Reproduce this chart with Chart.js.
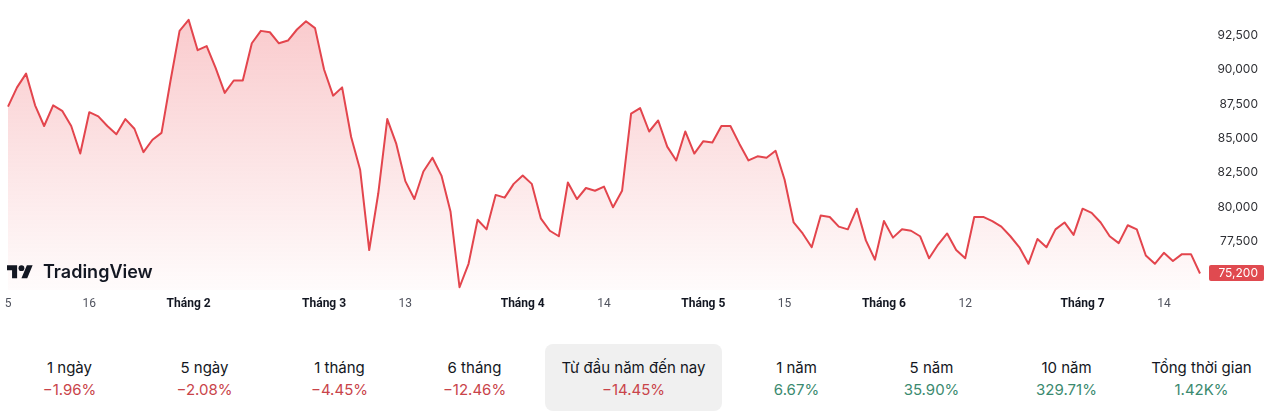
<!DOCTYPE html>
<html><head><meta charset="utf-8">
<script src="https://cdn.jsdelivr.net/npm/chart.js@4/dist/chart.umd.min.js"></script>
<style>
html,body{margin:0;padding:0;background:#fff;}
#wrap{position:relative;width:1280px;height:411px;overflow:hidden;font-family:Inter,'Noto Sans',sans-serif;color:#131722;}
#c{position:absolute;left:0;top:0;}
.logo{position:absolute;left:7px;top:262px;height:22px;}
.logo svg{position:absolute;left:0;top:0;}
.logo span{position:absolute;left:36px;top:-1px;font-family:Inter,sans-serif;font-weight:600;font-size:18px;line-height:22px;color:#131722;white-space:nowrap;}
.stat{position:absolute;top:344px;height:67px;text-align:center;}
.stat .l{position:absolute;left:0;right:0;top:15px;font-size:15px;line-height:18px;color:#131722;white-space:nowrap;}
.stat .v{position:absolute;left:0;right:0;top:37px;font-size:15px;line-height:18px;white-space:nowrap;}
.stat.sel{background:#f0f0f0;border-radius:8px;}
</style></head><body>
<div id="wrap">
<canvas id="c" width="1280" height="320"></canvas>
<div class="logo">
<svg width="26" height="21" viewBox="0 0 36 28"><path fill="#131722" d="M14 22H7V11H0V4h14v18zM28 22h-8l7.5-18h8L28 22z"/><circle fill="#131722" cx="20" cy="8" r="4"/></svg>
<span>TradingView</span>
</div>
<div id="stats"></div>
</div>
<script>
const categories = [
'01-05','01-06','01-07','01-08','01-09','01-12','01-13','01-14','01-15','01-16','01-19','01-20','01-21','01-22','01-23','01-26','01-27','01-28','01-29','01-30',
'02-02','02-03','02-04','02-05','02-06','02-09','02-10','02-11','02-12','02-13','02-23','02-24','02-25','02-26','02-27',
'03-02','03-03','03-04','03-05','03-06','03-09','03-10','03-11','03-12','03-13','03-16','03-17','03-18','03-19','03-20','03-23','03-24','03-25','03-26','03-27','03-30','03-31',
'04-01','04-02','04-03','04-06','04-07','04-08','04-09','04-10','04-13','04-14','04-15','04-16','04-17','04-20','04-21','04-22','04-23','04-24','04-28','04-29',
'05-04','05-05','05-06','05-07','05-08','05-11','05-12','05-13','05-14','05-15','05-18','05-19','05-20','05-21','05-22','05-25','05-26','05-27','05-28','05-29',
'06-01','06-02','06-03','06-04','06-05','06-08','06-09','06-10','06-11','06-12','06-15','06-16','06-17','06-18','06-19','06-22','06-23','06-24','06-25','06-26','06-29','06-30',
'07-01','07-02','07-03','07-06','07-07','07-08','07-09','07-10','07-13','07-14','07-15','07-16','07-17','07-20'
];
const prices = [
87300,88700,89700,87400,85900,87400,87000,85900,83900,86900,86600,85900,85300,86400,85700,84000,84900,85400,89200,92800,
93600,91400,91700,90100,88300,89200,89200,91900,92800,92700,91900,92100,92900,93500,93000,
90000,88100,88700,85100,82700,76900,81000,86400,84600,81900,80600,82600,83600,82300,79700,74200,75900,79100,78400,80900,80700,81700,
82300,81700,79200,78300,77900,81800,80600,81400,81200,81500,80000,81200,86800,87200,85500,86300,84400,83400,
85500,83900,84800,84700,85900,85900,84600,83400,83700,83600,84100,82000,78900,78100,77100,79400,79300,78600,78400,79900,
77600,76200,79000,77800,78400,78300,77900,76300,77300,78100,76900,76300,79300,79300,79000,78600,77900,77100,75900,77700,77100,78400,
78900,78000,79900,79600,78900,77900,77400,78700,78400,76500,75900,76700,76100,76600,76600,75200
];
const xTickLabels = {'01-05':'5','01-16':'16','02-02':'Tháng 2','03-02':'Tháng 3','03-13':'13','04-01':'Tháng 4','04-14':'14','05-04':'Tháng 5','05-15':'15','06-01':'Tháng 6','06-12':'12','07-01':'Tháng 7','07-14':'14'};
const yTicks = [77500,80000,82500,85000,87500,90000,92500];
const yMin = 74000, yMax = 95040;
const periodLabels = ['1 ngày','5 ngày','1 tháng','6 tháng','Từ đầu năm đến nay','1 năm','5 năm','10 năm','Tổng thời gian'];
const periodChanges = ['−1.96%','−2.08%','−4.45%','−12.46%','−14.45%','6.67%','35.90%','329.71%','1.42K%'];

const RED = '#e3454d';
const fmt = v => v.toLocaleString('en-US');

// stats row
(function(){
  const host = document.getElementById('stats');
  const boxes = [[2,135],[137,135],[272,135],[407,135],[545,177],[729,135],[864,135],[999,135],[1134,135]];
  periodLabels.forEach((lab,i)=>{
    const d = document.createElement('div');
    d.className = 'stat' + (i===4?' sel':'');
    d.style.left = boxes[i][0]+'px'; d.style.width = boxes[i][1]+'px';
    const neg = periodChanges[i].startsWith('−');
    d.innerHTML = '<div class="l">'+lab+'</div><div class="v" style="color:'+(neg?'#c9444a':'#3b8a6f')+'">'+periodChanges[i]+'</div>';
    host.appendChild(d);
  });
})();

const lastLabel = {
  id:'lastLabel',
  afterDraw(chart){
    const c = chart.ctx;
    const v = prices[prices.length-1];
    const y = chart.scales.y.getPixelForValue(v);
    c.save();
    c.fillStyle = '#e04a50';
    c.beginPath();
    if (c.roundRect) c.roundRect(1209, Math.round(y)-8, 55, 16, 2); else c.rect(1209, Math.round(y)-8, 55, 16);
    c.fill();
    c.fillStyle = '#fff';
    c.font = '12px Inter, sans-serif';
    c.textAlign = 'right';
    c.textBaseline = 'middle';
    c.fillText(fmt(v), 1258, Math.round(y)+0.5);
    c.restore();
  }
};

new Chart(document.getElementById('c'), {
  type:'line',
  data:{
    labels: categories,
    datasets:[{
      data: prices,
      borderColor: RED,
      borderWidth: 2,
      borderJoinStyle: 'round',
      pointRadius: 0,
      tension: 0,
      fill: 'start',
      backgroundColor: (ctx)=>{
        const ch = ctx.chart, a = ch.chartArea;
        if(!a) return 'rgba(236,70,78,0.15)';
        const g = ch.ctx.createLinearGradient(0,a.top,0,a.bottom);
        g.addColorStop(0,'rgba(236,70,78,0.30)');
        g.addColorStop(1,'rgba(236,70,78,0.02)');
        return g;
      }
    }]
  },
  options:{
    responsive:false,
    animation:false,
    devicePixelRatio:1,
    layout:{padding:{left:8,right:22,top:0,bottom:0}},
    plugins:{legend:{display:false},tooltip:{enabled:false}},
    scales:{
      x:{
        type:'category',
        offset:false,
        grid:{display:false,drawTicks:false},
        border:{display:false},
        afterFit(s){ s.height = 30; s.paddingLeft = 0; s.paddingRight = 0; },
        ticks:{
          autoSkip:false,
          maxRotation:0,
          minRotation:0,
          padding:7,
          callback:(val,idx)=> xTickLabels[categories[idx]] || '',
          font:(c)=>{
            const lab = xTickLabels[categories[c.index]] || '';
            return {family:'Roboto, sans-serif', size:12, weight: lab.startsWith('Tháng') ? 'bold' : 'normal'};
          },
          color:(c)=>{
            const lab = xTickLabels[categories[c.index]] || '';
            return lab.startsWith('Tháng') ? '#131722' : '#50535e';
          }
        }
      },
      y:{
        position:'right',
        min:yMin, max:yMax,
        grid:{display:false,drawTicks:false},
        border:{display:false},
        afterFit(s){ s.width = 58; s.paddingTop = 0; s.paddingBottom = 0; },
        afterBuildTicks(s){ s.ticks = yTicks.map(v=>({value:v})); },
        ticks:{
          crossAlign:'far',
          padding:0,
          font:{family:'Inter, sans-serif', size:12},
          color:'#2f3035',
          callback:(v)=> fmt(v)
        }
      }
    }
  },
  plugins:[lastLabel]
});
</script>
</body></html>
